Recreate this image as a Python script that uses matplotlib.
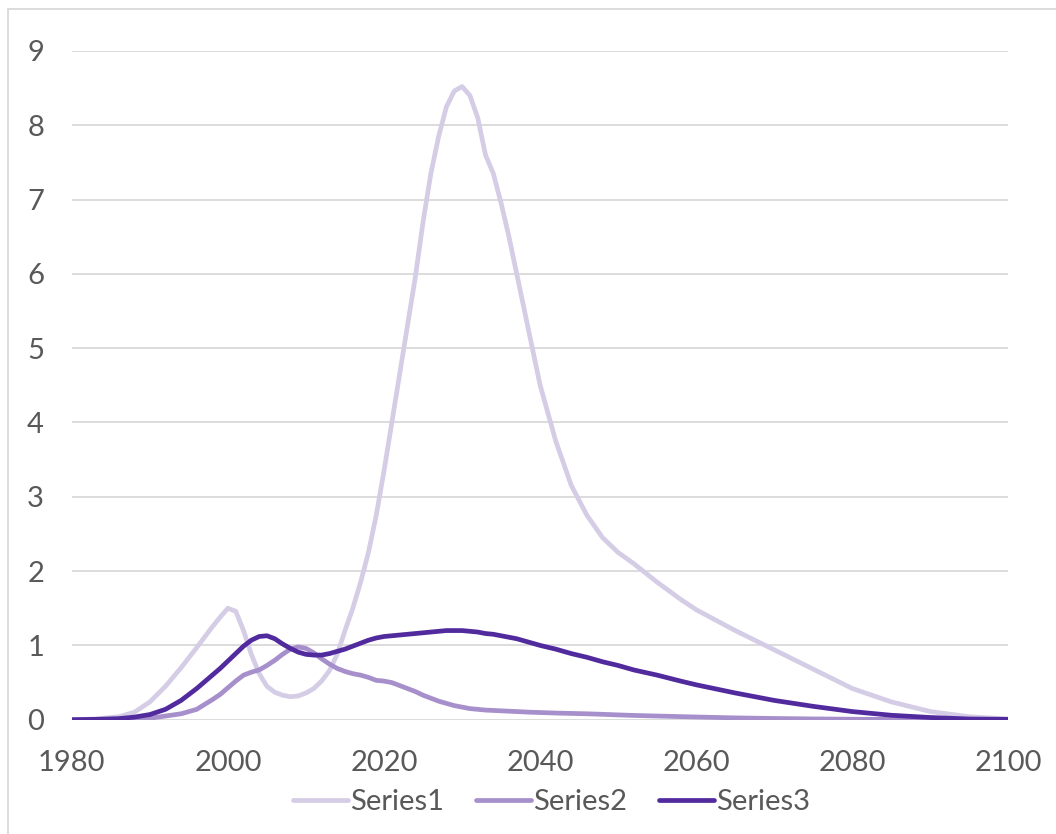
import matplotlib.pyplot as plt
from matplotlib.patches import Rectangle

years = [1980, 1983, 1986, 1988, 1990, 1992, 1994, 1996, 1998, 1999,
         2000, 2001, 2002, 2003, 2004, 2005, 2006, 2007, 2008, 2009,
         2010, 2011, 2012, 2013, 2014, 2015, 2016, 2017, 2018, 2019,
         2020, 2021, 2022, 2023, 2024, 2025, 2026, 2027, 2028, 2029,
         2030, 2031, 2032, 2033, 2034, 2035, 2036, 2037, 2038, 2039,
         2040, 2042, 2044, 2046, 2048, 2050, 2052, 2055, 2058, 2060,
         2065, 2070, 2075, 2080, 2085, 2090, 2095, 2100]

series1 = [0, 0.01, 0.04, 0.1, 0.24, 0.45, 0.7, 0.97, 1.25, 1.38,
           1.5, 1.46, 1.2, 0.88, 0.62, 0.45, 0.37, 0.33, 0.31, 0.32,
           0.36, 0.42, 0.52, 0.66, 0.88, 1.2, 1.5, 1.85, 2.25, 2.75,
           3.35, 4.0, 4.65, 5.3, 5.95, 6.7, 7.35, 7.85, 8.25, 8.46,
           8.52, 8.4, 8.1, 7.6, 7.35, 6.95, 6.5, 6.0, 5.5, 5.0,
           4.5, 3.75, 3.15, 2.75, 2.45, 2.25, 2.1, 1.85, 1.62, 1.48,
           1.2, 0.94, 0.68, 0.42, 0.24, 0.11, 0.04, 0.01]

series2 = [0, 0, 0.005, 0.01, 0.02, 0.05, 0.08, 0.14, 0.27, 0.34,
           0.43, 0.52, 0.6, 0.64, 0.67, 0.73, 0.8, 0.88, 0.95, 0.98,
           0.96, 0.9, 0.82, 0.75, 0.69, 0.65, 0.62, 0.6, 0.57, 0.53,
           0.52, 0.5, 0.46, 0.42, 0.38, 0.33, 0.29, 0.25, 0.22, 0.19,
           0.17, 0.15, 0.14, 0.13, 0.125, 0.12, 0.115, 0.11, 0.105, 0.1,
           0.097, 0.09, 0.085, 0.08, 0.073, 0.065, 0.058, 0.05, 0.042, 0.037,
           0.025, 0.017, 0.011, 0.007, 0.004, 0.002, 0.001, 0]

series3 = [0, 0.005, 0.015, 0.035, 0.07, 0.14, 0.26, 0.42, 0.6, 0.69,
           0.79, 0.89, 0.99, 1.07, 1.12, 1.13, 1.09, 1.02, 0.96, 0.91,
           0.88, 0.87, 0.87, 0.89, 0.92, 0.95, 0.99, 1.03, 1.07, 1.1,
           1.12, 1.13, 1.14, 1.15, 1.16, 1.17, 1.18, 1.19, 1.2, 1.2,
           1.2, 1.19, 1.18, 1.16, 1.15, 1.13, 1.11, 1.09, 1.06, 1.03,
           1.0, 0.95, 0.89, 0.84, 0.78, 0.73, 0.67, 0.6, 0.52, 0.47,
           0.36, 0.26, 0.18, 0.11, 0.06, 0.03, 0.01, 0.005]

names = ['Series1', 'Series2', 'Series3']
colors = ['#D5CCE5', '#A68FCB', '#512A9E']

plt.rcParams['font.family'] = ['Lato', 'DejaVu Sans']

fig = plt.figure(figsize=(10.56, 8.34), dpi=100)
ax = fig.add_axes([0.068, 0.137, 0.887, 0.802])

for ys, name, c in zip([series1, series2, series3], names, colors):
    ax.plot(years, ys, color=c, lw=3.4, label=name, solid_capstyle='round')

ax.set_xlim(1980, 2100)
ax.set_ylim(0, 9)
ax.set_xticks(range(1980, 2101, 20))
ax.set_yticks(range(0, 10))
ax.grid(axis='y', color='#D9D9D9', lw=1.3)
ax.set_axisbelow(True)
for s in ax.spines.values():
    s.set_visible(False)
ax.tick_params(length=0, labelsize=21, colors='#595959')
ax.tick_params(axis='x', pad=22)
ax.tick_params(axis='y', pad=20)

leg = ax.legend(loc='upper center', bbox_to_anchor=(0.512, -0.082), ncol=3,
                frameon=False, fontsize=21, handlelength=1.9,
                handletextpad=0.05, columnspacing=1.1, borderpad=0)
for t in leg.get_texts():
    t.set_color('#595959')

# chart border
fig.patches.append(Rectangle((8 / 1056, -0.1), 1.2, 1 - 9 / 834 + 0.1,
                             transform=fig.transFigure, fill=False,
                             edgecolor='#D9D9D9', lw=1.3))

fig.savefig('out.png', dpi=100)
